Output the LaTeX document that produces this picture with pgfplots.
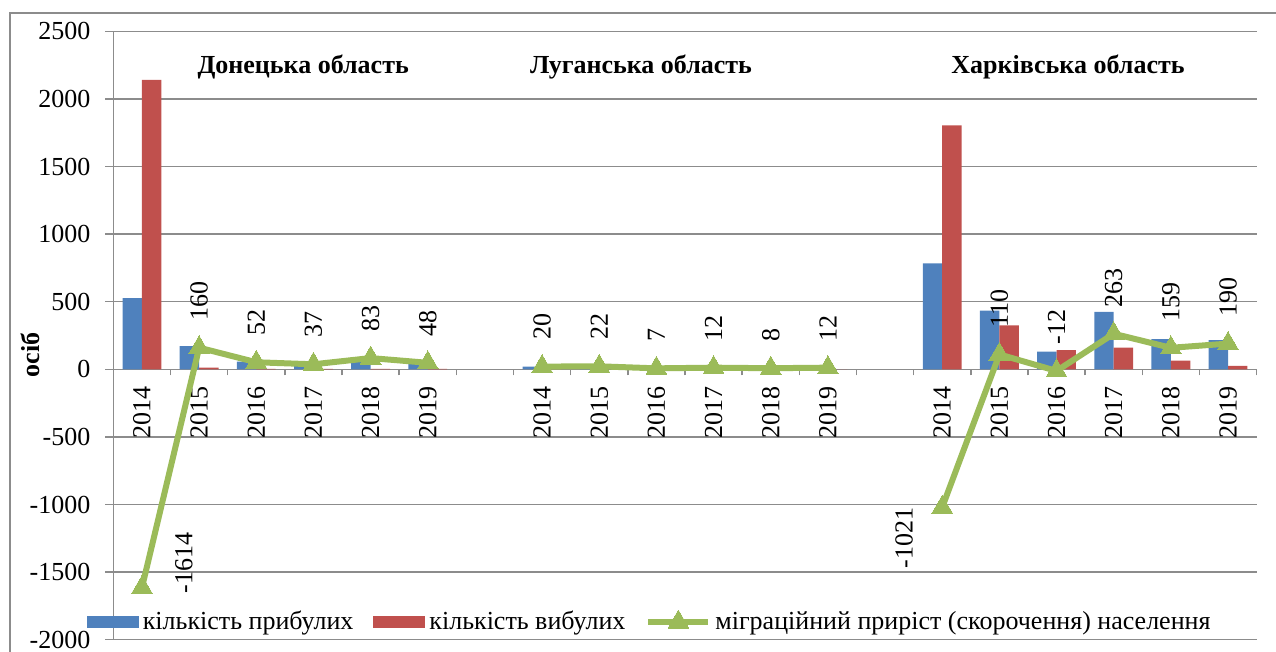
\documentclass[border=0pt]{standalone}
\usepackage{fontspec}
\setmainfont{Liberation Serif}
\usepackage{pgfplots}
\pgfplotsset{compat=1.18}

\definecolor{arrBlue}{HTML}{4F81BD}
\definecolor{depRed}{HTML}{C0504D}
\definecolor{netGreen}{HTML}{9BBB59}
\definecolor{gridGray}{HTML}{8C8C8C}

\pgfplotsset{
    netlegend/.style={legend image code/.code={%
        \draw[##1] plot[mark indices={2}] coordinates {(0pt,0pt) (15pt,0pt) (30pt,0pt)};}},
}

% x: 0-5 Донецька, 7-12 Луганська, 14-19 Харківська (2014-2019)
\begin{document}
\fontsize{13}{15.6}\selectfont
\begin{tikzpicture}
\begin{axis}[
    scale only axis,
    width=571.6pt, height=304.2pt,
    clip=false,
    xmin=-0.5, xmax=19.5,
    ymin=-2000, ymax=2500,
    axis x line*=middle, axis y line*=left,
    axis line style={gridGray, line width=0.75pt},
    ytick={-2000,-1500,...,2500},
    ymajorgrids,
    grid style={gridGray, line width=0.75pt},
    major tick length=4pt,
    tick align=outside,
    ytick style={gridGray, line width=0.75pt},
    yticklabel style={xshift=-3pt},
    xtick={0,1,2,3,4,5,7,8,9,10,11,12,14,15,16,17,18,19},
    xticklabels={2014,2015,2016,2017,2018,2019,2014,2015,2016,2017,2018,2019,2014,2015,2016,2017,2018,2019},
    xtick style={draw=none},
    xticklabel style={rotate=90, anchor=east},
    extra x ticks={0.5,1.5,...,19.5},
    extra x tick labels={},
    extra x tick style={grid=none, major tick length=3pt, xtick style={draw=gridGray, line width=0.75pt}},
    hide obscured x ticks=false,
    /pgf/number format/assume math mode=true,
    /pgf/number format/1000 sep={},
    ylabel={\textbf{осіб}},
    ylabel style={at={(axis description cs:-0.073,0.468)}, anchor=center},
    legend style={at={(0.47,0.029)}, anchor=center, draw=none, fill=none,
        legend columns=3, /tikz/every even column/.append style={column sep=8pt}},
]
\addplot[ybar, bar width=9.7pt, bar shift=-4.85pt, fill=arrBlue, draw=none,
    legend image code/.code={\fill[arrBlue] (0pt,-3pt) rectangle (26pt,3pt);}]
    coordinates {(0,527) (1,172) (2,56) (3,40) (4,87) (5,52)
                 (7,20) (8,22) (9,7) (10,12) (11,8) (12,12)
                 (14,783) (15,434) (16,130) (17,424) (18,224) (19,215)};
\addlegendentry{кількість прибулих}
\addplot[ybar, bar width=9.7pt, bar shift=4.85pt, fill=depRed, draw=none,
    legend image code/.code={\fill[depRed] (0pt,-3pt) rectangle (26pt,3pt);}]
    coordinates {(0,2141) (1,12) (2,4) (3,3) (4,4) (5,4)
                 (7,0) (8,0) (9,0) (10,0) (11,0) (12,0)
                 (14,1804) (15,324) (16,142) (17,161) (18,65) (19,25)};
\addlegendentry{кількість вибулих}
\addplot[sharp plot, color=netGreen, line width=3pt, mark=triangle*, mark size=6pt,
    mark options={fill=netGreen, draw=netGreen, line width=0pt},
    unbounded coords=jump,
    point meta=explicit symbolic, nodes near coords,
    nodes near coords style={text=black, yshift=9pt, rotate=90, anchor=west},
    netlegend]
    coordinates {(0,-1614) [] (1,160) [160] (2,52) [52] (3,37) [37] (4,83) [83] (5,48) [48]
                 (6,nan) []
                 (7,20) [20] (8,22) [22] (9,7) [7] (10,12) [12] (11,8) [8] (12,12) [12]
                 (13,nan) []
                 (14,-1021) [] (15,110) [110] (16,-12) [-12] (17,263) [263] (18,159) [159] (19,190) [190]};
\addlegendentry{міграційний приріст (скорочення) населення}
\addplot[draw=none, mark=none, forget plot, point meta=explicit symbolic, nodes near coords,
    nodes near coords style={xshift=21pt, yshift=-3pt, rotate=90, anchor=west, inner sep=0pt}]
    coordinates {(0,-1614) [-1614]};
\addplot[draw=none, mark=none, forget plot, point meta=explicit symbolic, nodes near coords,
    nodes near coords style={xshift=-19pt, rotate=90, anchor=east, inner sep=0pt}]
    coordinates {(14,-1021) [-1021]};
\node[font=\bfseries] at (axis cs:2.82,2236) {Донецька область};
\node[font=\bfseries] at (axis cs:8.73,2236) {Луганська область};
\node[font=\bfseries] at (axis cs:16.2,2236) {Харківська область};
\end{axis}
\draw[gridGray, line width=0.75pt] (-51.7pt,-40pt) |- (640pt,313.35pt);
\pgfresetboundingbox
\path[use as bounding box] (-56.7pt,-6.15pt) rectangle (581.3pt,319.85pt);
\end{tikzpicture}
\end{document}
